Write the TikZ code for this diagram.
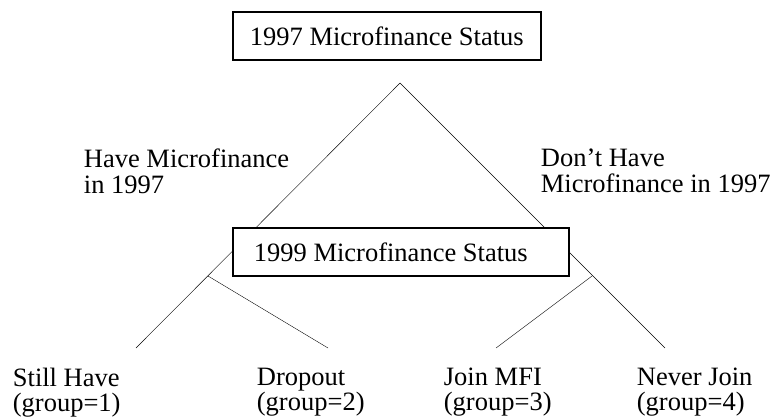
\documentclass[tikz,border=0pt]{standalone}
\usepackage{fontspec}
\setmainfont{Liberation Serif}
\usetikzlibrary{backgrounds}
\tikzset{
  statusbox/.style={ draw, fill=white, line width=1.8pt, minimum height=48pt, inner xsep=21pt, anchor=west, font=\fontsize{26.5}{31}\selectfont }
}
\tikzset{
  branchlbl/.style={ anchor=north west, inner sep=0pt, align=left, font=\fontsize{26.5}{26}\selectfont }
}
\tikzset{
  leaflbl/.style={ anchor=north west, inner sep=0pt, align=left, font=\fontsize{26.5}{25}\selectfont }
}
\begin{document}
\begin{tikzpicture}[x=1pt, y=-1pt, line width=1.8pt]
      \useasboundingbox (0,0) rectangle (770,417);

      \node[statusbox, inner xsep=17pt] (s97) at (232,36) {1997 Microfinance Status};
      \node[statusbox] (s99) at (232,252) {\makebox[294pt][l]{1999 Microfinance Status}};

      \node[branchlbl] (have) at (83,148) {Have Microfinance\\in 1997};
      \node[branchlbl] (nohave) at (540,148) {Don’t Have\\Microfinance in 1997};

      \node[leaflbl] (still) at (12,367) {Still Have\\(group=1)};
      \node[leaflbl] (dropout) at (256,367) {Dropout\\(group=2)};
      \node[leaflbl] (joinmfi) at (443,367) {Join MFI\\(group=3)};
      \node[leaflbl] (neverjoin) at (636,367) {Never Join\\(group=4)};

      \coordinate (apex) at (400,83);
      \coordinate (fork1) at (208,276);
      \coordinate (fork2) at (592,276);
      \coordinate (end1) at (136,348);
      \coordinate (end2) at (328,348);
      \coordinate (end3) at (496,348);
      \coordinate (end4) at (665,348);

      \begin{scope}[on background layer]
        \draw (apex) -- (end1);
        \draw (apex) -- (end4);
        \draw (fork1) -- (end2);
        \draw (fork2) -- (end3);
      \end{scope}
    \end{tikzpicture}
\end{document}
